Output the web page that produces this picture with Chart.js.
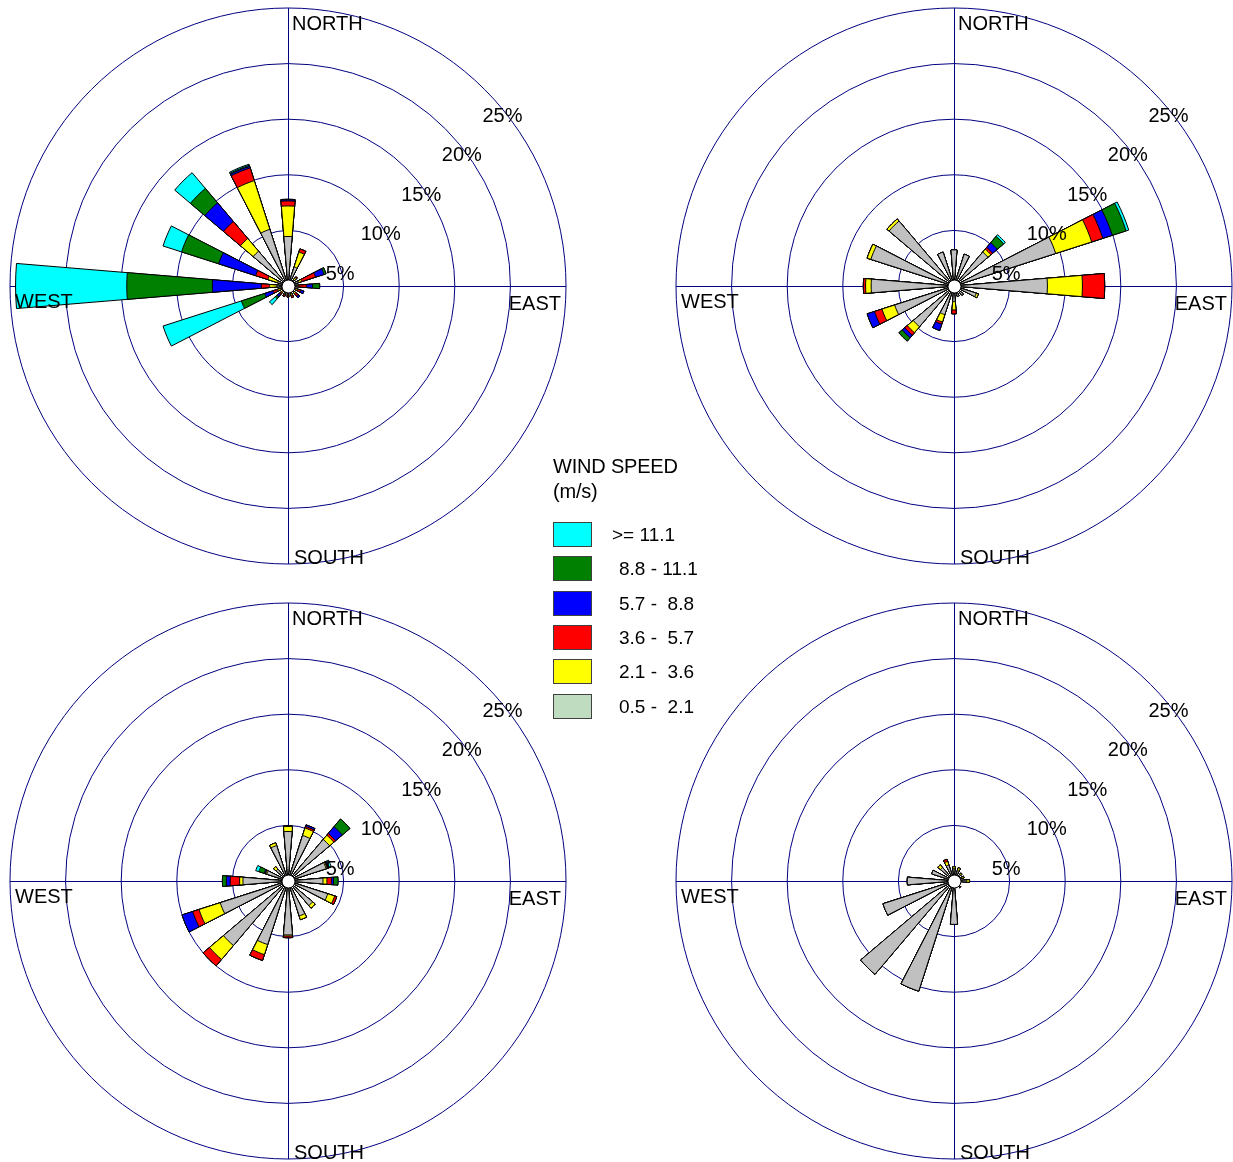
<!DOCTYPE html>
<html>
<head>
<meta charset="utf-8">
<script src="https://cdn.jsdelivr.net/npm/chart.js@4.4.1/dist/chart.umd.min.js"></script>
<style>
  body { margin: 0; width: 1233px; height: 1162px; background: #fff; position: relative; overflow: hidden;
         font-family: "Liberation Sans", Arial, sans-serif; color: #000; }
  canvas.rose { position: absolute; }
  .lg-title { position: absolute; left: 553px; top: 454px; font-size: 20px; line-height: 25px; letter-spacing: -0.2px; z-index: 2; }
  .lg-box { position: absolute; left: 553px; width: 37px; height: 23px; border: 1px solid #404040; z-index: 2; }
  .lg-text { position: absolute; font-size: 19px; line-height: 25px; white-space: pre; z-index: 2; }
</style>
</head>
<body>
<canvas id="rose-tl" class="rose" width="576" height="576" style="left:0px;top:-2px"></canvas>
<canvas id="rose-tr" class="rose" width="576" height="576" style="left:666px;top:-2px"></canvas>
<canvas id="rose-bl" class="rose" width="576" height="576" style="left:0px;top:593px"></canvas>
<canvas id="rose-br" class="rose" width="576" height="576" style="left:666px;top:593px"></canvas>
<div class="lg-title">WIND SPEED<br>(m/s)</div>
<div id="legend"></div>
<script>
// 16 directions, clockwise from north
const directions = ['N', 'NNE', 'NE', 'ENE', 'E', 'ESE', 'SE', 'SSE', 'S', 'SSW', 'SW', 'WSW', 'W', 'WNW', 'NW', 'NNW'];
// speed classes (m/s), inner to outer
const speedClasses = ['0.5 -  2.1', '2.1 -  3.6', '3.6 -  5.7', '5.7 -  8.8', '8.8 - 11.1', '>= 11.1'];
const barColors = ['#C0C0C0', '#FFFF00', '#FF0000', '#0000FF', '#008000', '#00FFFF'];
const legendColors = ['#C0DCC0', '#FFFF00', '#FF0000', '#0000FF', '#008000', '#00FFFF'];
const ringTicks = [5, 10, 15, 20, 25];
const GRID = '#000080';
const BAR_DEG = 9.5;
const GAP_DEG = 22.5 - BAR_DEG;

// frequency (%) per direction for each speed class
// top left
const tl05  = [4.45, 1.8, 0.7, 1.0, 0.8, 0.7, 0.7, 0.7, 0.6, 0.6, 0.6, 0.6, 1.0, 1.0, 4.1, 5.35];
const tl21  = [2.75, 1.4, 0.3, 0.3, 0.15, 0.2, 0.2, 0.2, 0.2, 0.2, 0.2, 0.4, 0.65, 0.9, 1.5, 4.6];
const tl36  = [0.45, 0.3, 0.1, 1.3, 0.7, 0.3, 0.3, 0.2, 0.2, 0.2, 0.2, 0.4, 0.75, 1.15, 2.0, 1.2];
const tl57  = [0.1, 0, 0, 0.8, 0.55, 0.3, 0.2, 0, 0, 0, 0.3, 0.8, 4.4, 3.5, 2.2, 0.15];
const tl88  = [0.05, 0, 0, 0.2, 0.65, 0, 0, 0, 0, 0, 0.2, 2.2, 7.7, 3.5, 1.7, 0.1];
const tl111 = [0, 0, 0, 0, 0, 0, 0, 0, 0, 0, 0.7, 7.4, 10.0, 1.75, 1.85, 0.1];
// top right
const tr05  = [3.25, 3.0, 4.0, 9.6, 8.4, 2.1, 1.1, 1.0, 1.4, 2.7, 4.8, 5.6, 7.45, 7.85, 7.65, 3.2];
const tr21  = [0, 0, 0.35, 3.4, 3.15, 0.2, 0, 0, 0.75, 0.7, 0.7, 1.2, 0.5, 0.35, 0.25, 0];
const tr36  = [0, 0, 0.2, 1.05, 2.0, 0, 0, 0, 0.35, 0.2, 0.3, 0.7, 0.2, 0, 0, 0];
const tr57  = [0, 0, 0.55, 0.9, 0, 0, 0, 0, 0, 0.6, 0.3, 0.7, 0, 0, 0, 0];
const tr88  = [0, 0, 0.75, 1.3, 0, 0, 0, 0, 0, 0, 0.4, 0, 0, 0, 0, 0];
const tr111 = [0, 0, 0.2, 0.25, 0, 0, 0, 0, 0, 0, 0, 0, 0, 0, 0, 0];
// bottom left
const bl05  = [4.45, 4.3, 4.9, 3.6, 3.15, 3.75, 2.9, 3.3, 4.85, 6.0, 7.6, 6.4, 4.05, 2.0, 1.4, 3.35];
const bl21  = [0.45, 0.7, 0.5, 0.1, 0.35, 0.65, 0.3, 0.35, 0.1, 0.95, 1.65, 2.0, 0.3, 0.1, 0.3, 0.25];
const bl36  = [0.05, 0.15, 0.2, 0.05, 0.4, 0.2, 0, 0, 0.15, 0.55, 0.75, 0.6, 0.85, 0.05, 0, 0];
const bl57  = [0, 0.15, 0.8, 0.1, 0.2, 0, 0, 0, 0, 0, 0, 1.0, 0.35, 0.1, 0, 0];
const bl88  = [0, 0, 0.9, 0.05, 0.4, 0, 0, 0, 0, 0, 0, 0, 0.35, 0.5, 0, 0];
const bl111 = [0, 0, 0, 0.2, 0, 0, 0, 0, 0, 0, 0, 0, 0, 0.3, 0, 0];
// bottom right
const br05  = [1.1, 1.0, 0.8, 0.75, 1.1, 0.6, 0.7, 0.6, 3.9, 10.4, 11.0, 6.7, 4.2, 2.1, 1.6, 1.5];
const br21  = [0.2, 0.25, 0.15, 0.2, 0.3, 0, 0.05, 0, 0, 0, 0, 0, 0, 0, 0.3, 0.35];
const br36  = [0, 0, 0, 0, 0, 0, 0.05, 0, 0, 0, 0, 0, 0, 0, 0, 0.2];
const br57  = [0, 0, 0, 0, 0, 0, 0, 0, 0, 0, 0, 0, 0, 0, 0, 0];
const br88  = [0, 0, 0, 0, 0, 0, 0, 0, 0, 0, 0, 0, 0, 0, 0, 0];
const br111 = [0, 0, 0, 0, 0, 0, 0, 0, 0, 0, 0, 0, 0, 0, 0, 0];

const FONT = '20px "Liberation Sans", Arial, sans-serif';

// grid cross, calm circle and the text labels
const roseDecor = {
    id: 'roseDecor',
    beforeDatasetsDraw(chart) {
        const s = chart.scales.r, ctx = chart.ctx;
        const cx = s.xCenter, cy = s.yCenter, R = s.drawingArea;
        ctx.save();
        ctx.strokeStyle = GRID;
        ctx.lineWidth = 1;
        ctx.beginPath();
        ctx.moveTo(cx + 0.5, cy - R); ctx.lineTo(cx + 0.5, cy + R);
        ctx.moveTo(cx - R, cy + 0.5); ctx.lineTo(cx + R, cy + 0.5);
        ctx.stroke();
        ctx.restore();
    },
    afterDatasetsDraw(chart) {
        const s = chart.scales.r, ctx = chart.ctx;
        const cx = s.xCenter, cy = s.yCenter, R = s.drawingArea;
        ctx.save();
        // calm circle
        ctx.beginPath();
        ctx.arc(cx + 0.5, cy + 0.5, 6.5, 0, Math.PI * 2);
        ctx.fillStyle = '#fff';
        ctx.fill();
        ctx.strokeStyle = '#000';
        ctx.lineWidth = 1;
        ctx.stroke();

        ctx.fillStyle = '#000';
        ctx.font = FONT;
        ctx.textBaseline = 'alphabetic';
        // percent labels along the diagonal
        ctx.textAlign = 'center';
        ringTicks.forEach(v => {
            const d = s.getDistanceFromCenterForValue(v);
            ctx.fillText(v + '%', cx + d * 0.73 + 11.5, cy - d * 0.712 + 33.6);
        });
        // compass labels
        ctx.textAlign = 'left';
        ctx.fillText('NORTH', cx + 4, cy - R + 22);
        ctx.fillText('SOUTH', cx + 6, cy + R);
        ctx.fillText('WEST', cx - R + 5, cy + 22);
        ctx.textAlign = 'right';
        ctx.fillText('EAST', cx + R - 5, cy + 24);
        ctx.restore();
    }
};

function makeRose(id, bins) {
    // stacked look: cumulative radius per class, smallest drawn on top
    const cum = bins.map((_, k) => directions.map((d, i) => {
        let t = 0;
        for (let j = 0; j <= k; j++) t += bins[j][i];
        return t;
    }));
    const labels = [];
    directions.forEach(d => { labels.push(d, ''); });
    const datasets = cum.map((vals, k) => ({
        label: speedClasses[k],
        data: vals.flatMap(v => [v, 0]), // bar, then gap
        backgroundColor: ctx => ctx.dataIndex % 2 ? 'rgba(0,0,0,0)' : barColors[k],
        borderColor: '#000',
        borderWidth: ctx => ctx.dataIndex % 2 ? 0 : 1,
        angle: ctx => ctx.dataIndex % 2 ? GAP_DEG : BAR_DEG
    }));
    new Chart(document.getElementById(id), {
        type: 'polarArea',
        data: { labels, datasets },
        options: {
            responsive: false,
            animation: false,
            events: [],
            layout: { padding: 10 },
            plugins: { legend: { display: false }, tooltip: { enabled: false } },
            scales: {
                r: {
                    min: 0,
                    max: 25,
                    startAngle: -BAR_DEG / 2,
                    ticks: { display: false, stepSize: 5 },
                    grid: { color: GRID, lineWidth: 1, circular: true },
                    angleLines: { display: false },
                    pointLabels: { display: false }
                }
            }
        },
        plugins: [roseDecor]
    });
}

makeRose('rose-tl', [tl05, tl21, tl36, tl57, tl88, tl111]);
makeRose('rose-tr', [tr05, tr21, tr36, tr57, tr88, tr111]);
makeRose('rose-bl', [bl05, bl21, bl36, bl57, bl88, bl111]);
makeRose('rose-br', [br05, br21, br36, br57, br88, br111]);

// legend, outer class first
const legend = document.getElementById('legend');
const legendLeft = [612, 619, 619, 619, 619, 619];
for (let i = 0; i < speedClasses.length; i++) {
    const k = speedClasses.length - 1 - i;
    const top = 522 + i * 34.3;
    const box = document.createElement('div');
    box.className = 'lg-box';
    box.style.top = top + 'px';
    box.style.background = legendColors[k];
    legend.appendChild(box);
    const txt = document.createElement('div');
    txt.className = 'lg-text';
    txt.style.top = top + 'px';
    txt.style.left = legendLeft[i] + 'px';
    txt.textContent = speedClasses[k];
    legend.appendChild(txt);
}
</script>
</body>
</html>
